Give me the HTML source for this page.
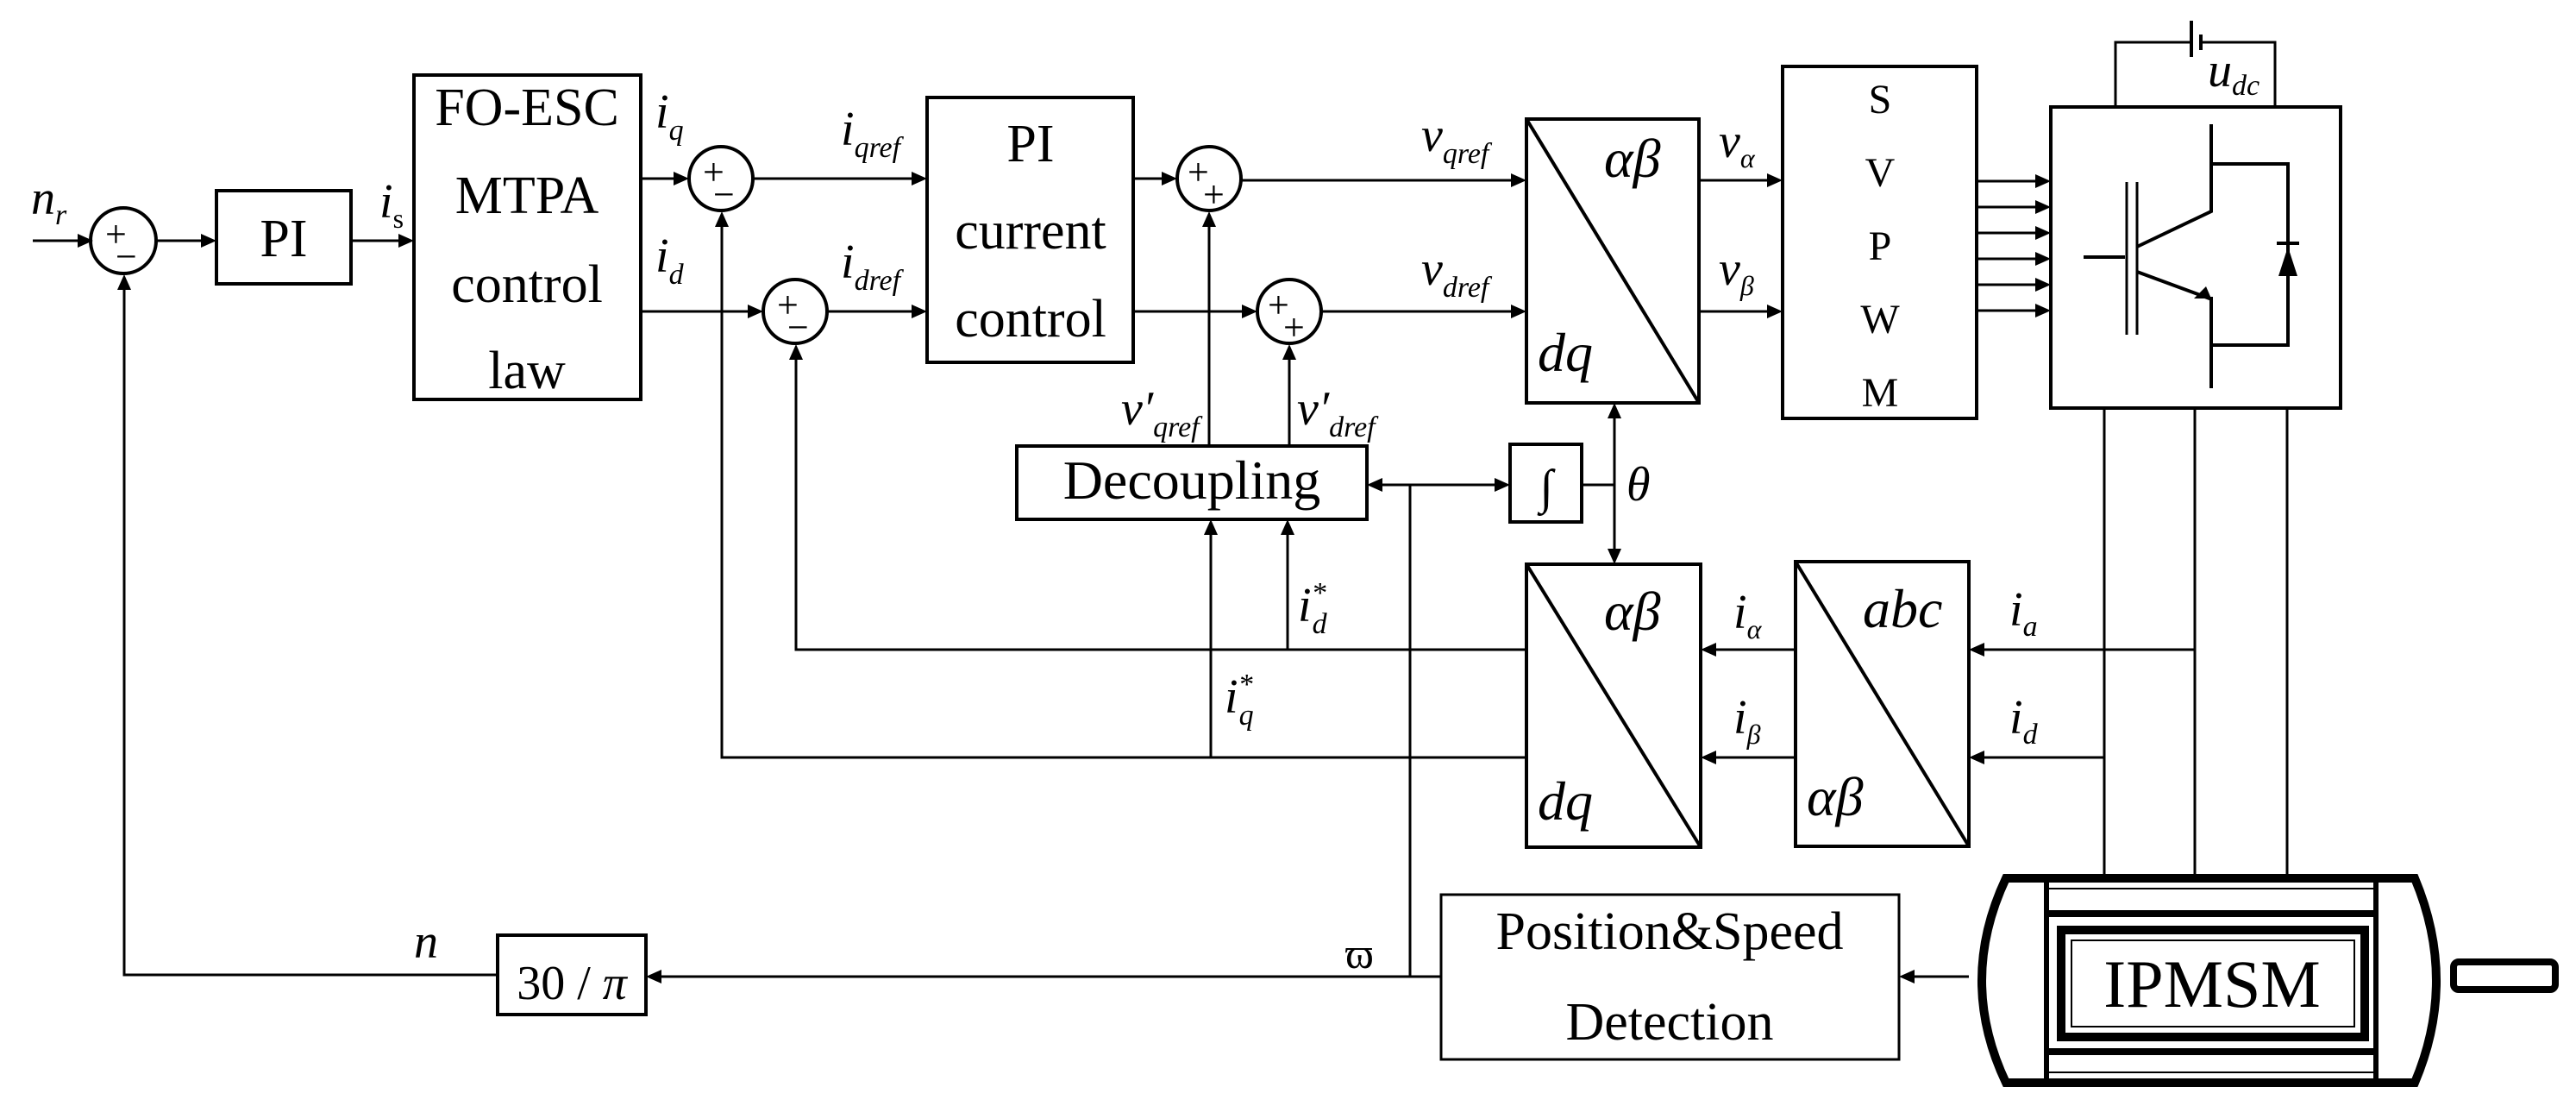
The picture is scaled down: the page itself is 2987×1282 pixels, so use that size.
<!DOCTYPE html>
<html><head><meta charset="utf-8"><style>
html,body{margin:0;padding:0;background:#fff;}
svg{display:block;}
text{font-family:"Liberation Serif",serif;fill:#000;}
.it{font-style:italic;}
</style></head><body>
<svg width="2987" height="1282" viewBox="0 0 2987 1282" xmlns="http://www.w3.org/2000/svg">
<g fill="none" stroke="#000" stroke-width="4">
<rect x="251" y="221" width="156" height="108"/>
<rect x="480" y="87" width="263" height="376"/>
<rect x="1075" y="113" width="239" height="307"/>
<rect x="1179" y="517" width="406" height="85"/>
<rect x="1751" y="515" width="83" height="90"/>
<rect x="1770" y="138" width="200" height="329"/>
<line x1="1770" y1="138" x2="1970" y2="467"/>
<rect x="2067" y="77" width="225" height="408"/>
<rect x="2378" y="124" width="336" height="349"/>
<rect x="1770" y="654" width="202" height="328"/>
<line x1="1770" y1="654" x2="1972" y2="982"/>
<rect x="2082" y="651" width="201" height="330"/>
<line x1="2082" y1="651" x2="2283" y2="981"/>
<rect x="1671" y="1037" width="531" height="191" stroke-width="3"/>
<rect x="577" y="1084" width="172" height="92"/>
<circle cx="143" cy="279" r="38"/>
<circle cx="836" cy="207" r="37"/>
<circle cx="922" cy="361" r="37"/>
<circle cx="1402" cy="207" r="37"/>
<circle cx="1495" cy="361" r="37"/>
</g>
<g fill="none" stroke="#000" stroke-width="3">
<line x1="38" y1="279" x2="90" y2="279"/>
<line x1="181" y1="279" x2="233" y2="279"/>
<line x1="407" y1="279" x2="462" y2="279"/>
<line x1="743" y1="207" x2="783" y2="207"/>
<line x1="873" y1="207" x2="1057" y2="207"/>
<line x1="743" y1="361" x2="869" y2="361"/>
<line x1="959" y1="361" x2="1057" y2="361"/>
<line x1="1314" y1="207" x2="1349" y2="207"/>
<line x1="1314" y1="361" x2="1442" y2="361"/>
<line x1="1439" y1="209" x2="1752" y2="209"/>
<line x1="1532" y1="361" x2="1752" y2="361"/>
<line x1="1970" y1="209" x2="2049" y2="209"/>
<line x1="1970" y1="361" x2="2049" y2="361"/>
<line x1="2292" y1="210" x2="2360" y2="210"/>
<line x1="2292" y1="240" x2="2360" y2="240"/>
<line x1="2292" y1="270" x2="2360" y2="270"/>
<line x1="2292" y1="300" x2="2360" y2="300"/>
<line x1="2292" y1="330" x2="2360" y2="330"/>
<line x1="2292" y1="360" x2="2360" y2="360"/>
<polyline points="577,1130 144,1130 144,335"/>
<polyline points="1770,878 837,878 837,262"/>
<polyline points="1770,753 923,753 923,416"/>
<line x1="1402" y1="517" x2="1402" y2="262"/>
<line x1="1495" y1="517" x2="1495" y2="416"/>
<line x1="1404" y1="878" x2="1404" y2="620"/>
<line x1="1493" y1="753" x2="1493" y2="620"/>
<line x1="1603" y1="562" x2="1733" y2="562"/>
<line x1="1635" y1="562" x2="1635" y2="1132"/>
<line x1="1834" y1="562" x2="1872" y2="562"/>
<line x1="1872" y1="485" x2="1872" y2="636"/>
<line x1="1671" y1="1132" x2="767" y2="1132"/>
<line x1="2283" y1="1132" x2="2220" y2="1132"/>
<line x1="2082" y1="753" x2="1990" y2="753"/>
<line x1="2082" y1="878" x2="1990" y2="878"/>
<line x1="2545" y1="753" x2="2301" y2="753"/>
<line x1="2440" y1="878" x2="2301" y2="878"/>
<line x1="2440" y1="473" x2="2440" y2="1018"/>
<line x1="2545" y1="473" x2="2545" y2="1018"/>
<line x1="2652" y1="473" x2="2652" y2="1018"/>
<polyline points="2453,124 2453,49 2541,49"/>
<polyline points="2552,49 2638,49 2638,124"/>
<line x1="2541" y1="24" x2="2541" y2="66" stroke-width="4"/>
<line x1="2552" y1="40" x2="2552" y2="58" stroke-width="4"/>
<line x1="2416" y1="298" x2="2464" y2="298" stroke-width="4"/>
<line x1="2466" y1="211" x2="2466" y2="388"/>
<line x1="2478" y1="211" x2="2478" y2="388"/>
<polyline points="2564,144 2564,245 2478,286" stroke-width="4"/>
<polyline points="2478,315 2562,346 2564,346 2564,450" stroke-width="4"/>
<polyline points="2564,190 2653,190 2653,400 2564,400" stroke-width="4"/>
<line x1="2640" y1="282" x2="2666" y2="282" stroke-width="4"/>
</g>
<g fill="#000">
<polygon points="108,279 90,271 90,287"/>
<polygon points="251,279 233,271 233,287"/>
<polygon points="480,279 462,271 462,287"/>
<polygon points="799,207 781,199 781,215"/>
<polygon points="1075,207 1057,199 1057,215"/>
<polygon points="885,361 867,353 867,369"/>
<polygon points="1075,361 1057,353 1057,369"/>
<polygon points="1365,207 1347,199 1347,215"/>
<polygon points="1458,361 1440,353 1440,369"/>
<polygon points="1770,209 1752,201 1752,217"/>
<polygon points="1770,361 1752,353 1752,369"/>
<polygon points="2067,209 2049,201 2049,217"/>
<polygon points="2067,361 2049,353 2049,369"/>
<polygon points="2378,210 2360,202 2360,218"/>
<polygon points="2378,240 2360,232 2360,248"/>
<polygon points="2378,270 2360,262 2360,278"/>
<polygon points="2378,300 2360,292 2360,308"/>
<polygon points="2378,330 2360,322 2360,338"/>
<polygon points="2378,360 2360,352 2360,368"/>
<polygon points="144,318 136,336 152,336"/>
<polygon points="837,245 829,263 845,263"/>
<polygon points="923,399 915,417 931,417"/>
<polygon points="1402,245 1394,263 1410,263"/>
<polygon points="1495,399 1487,417 1503,417"/>
<polygon points="1404,602 1396,620 1412,620"/>
<polygon points="1493,602 1485,620 1501,620"/>
<polygon points="1585,562 1603,554 1603,570"/>
<polygon points="1751,562 1733,554 1733,570"/>
<polygon points="1872,467 1864,485 1880,485"/>
<polygon points="1872,654 1864,636 1880,636"/>
<polygon points="749,1132 767,1124 767,1140"/>
<polygon points="2202,1132 2220,1124 2220,1140"/>
<polygon points="1972,753 1990,745 1990,761"/>
<polygon points="1972,878 1990,870 1990,886"/>
<polygon points="2283,753 2301,745 2301,761"/>
<polygon points="2283,878 2301,870 2301,886"/>
<polygon points="2653,286 2642,320 2664,320"/>
<polygon points="2564,346 2544,346 2558,332"/>
</g>
<g fill="none" stroke="#000">
<path d="M2326,1018 L2800,1018 Q2850,1137 2800,1255 L2326,1255 Q2270,1137 2326,1018 Z" stroke-width="10"/>
<line x1="2373" y1="1018" x2="2373" y2="1255" stroke-width="6"/>
<line x1="2755" y1="1018" x2="2755" y2="1255" stroke-width="6"/>
<line x1="2373" y1="1030" x2="2755" y2="1030" stroke-width="2"/>
<line x1="2373" y1="1243" x2="2755" y2="1243" stroke-width="2"/>
<line x1="2373" y1="1059" x2="2755" y2="1059" stroke-width="8"/>
<line x1="2373" y1="1219" x2="2755" y2="1219" stroke-width="8"/>
<rect x="2390" y="1078" width="352" height="124" stroke-width="10"/>
<rect x="2402" y="1090" width="328" height="100" stroke-width="2"/>
<rect x="2845" y="1115" width="118" height="32" rx="6" stroke-width="8"/>
</g>
<g font-size="62" text-anchor="middle">
<text x="329" y="297">PI</text>
<text x="611" y="145">FO-ESC</text>
<text x="611" y="247">MTPA</text>
<text x="611" y="350">control</text>
<text x="611" y="450">law</text>
<text x="1195" y="187">PI</text>
<text x="1195" y="288">current</text>
<text x="1195" y="390">control</text>
<text x="1382" y="578" font-size="64">Decoupling</text>
<text x="1936" y="1100" font-size="62">Position&amp;Speed</text>
<text x="1936" y="1205" font-size="62">Detection</text>
<text x="2565" y="1167" font-size="78">IPMSM</text>
<text x="663" y="1158" font-size="56">30 / <tspan class="it">π</tspan></text>
<text x="1793" y="583" font-size="56" class="it">∫</text>
</g>
<g font-size="48" text-anchor="middle">
<text x="2180" y="131">S</text>
<text x="2180" y="216">V</text>
<text x="2180" y="301">P</text>
<text x="2180" y="386">W</text>
<text x="2180" y="471">M</text>
</g>
<g font-size="44">
<text x="122" y="286">+</text><text x="134" y="312">−</text>
<text x="815" y="214">+</text><text x="827" y="240">−</text>
<text x="901" y="368">+</text><text x="913" y="394">−</text>
<text x="1377" y="214">+</text><text x="1395" y="240">+</text>
<text x="1470" y="368">+</text><text x="1488" y="394">+</text>
</g>
<g class="it" font-size="56">
<text x="36" y="248">n<tspan font-size="34" dy="12">r</tspan></text>
<text x="440" y="252">i<tspan font-size="32" dy="12" font-style="normal">s</tspan></text>
<text x="760" y="148">i<tspan font-size="34" dy="14">q</tspan></text>
<text x="760" y="315">i<tspan font-size="34" dy="14">d</tspan></text>
<text x="975" y="168">i<tspan font-size="34" dy="14">qref</tspan></text>
<text x="975" y="322">i<tspan font-size="34" dy="14">dref</tspan></text>
<text x="1648" y="175">v<tspan font-size="34" dy="14">qref</tspan></text>
<text x="1648" y="330">v<tspan font-size="34" dy="14">dref</tspan></text>
<text x="1993" y="182">v<tspan font-size="32" dy="12">α</tspan></text>
<text x="1993" y="330">v<tspan font-size="32" dy="12">β</tspan></text>
<text x="2560" y="100">u<tspan font-size="34" dy="10">dc</tspan></text>
<text x="1860" y="205" font-size="64">αβ</text>
<text x="1783" y="430" font-size="64">dq</text>
<text x="1860" y="730" font-size="64">αβ</text>
<text x="1783" y="950" font-size="64">dq</text>
<text x="2160" y="727" font-size="64">abc</text>
<text x="2095" y="945" font-size="64">αβ</text>
<text x="1886" y="580">θ</text>
<text x="1300" y="492">v′<tspan font-size="34" dy="14">qref</tspan></text>
<text x="1504" y="492">v′<tspan font-size="34" dy="14">dref</tspan></text>
<text x="1505" y="720">i<tspan font-size="34" dy="-22">*</tspan><tspan font-size="34" dx="-16" dy="36">d</tspan></text>
<text x="1420" y="826">i<tspan font-size="34" dy="-22">*</tspan><tspan font-size="34" dx="-16" dy="36">q</tspan></text>
<text x="2010" y="728">i<tspan font-size="32" dy="12">α</tspan></text>
<text x="2010" y="850">i<tspan font-size="32" dy="12">β</tspan></text>
<text x="2330" y="725">i<tspan font-size="34" dy="12">a</tspan></text>
<text x="2330" y="850">i<tspan font-size="34" dy="12">d</tspan></text>
<text x="480" y="1110">n</text>
<text x="1560" y="1122" font-style="normal" font-size="50">ϖ</text>
</g>
</svg>
</body></html>
